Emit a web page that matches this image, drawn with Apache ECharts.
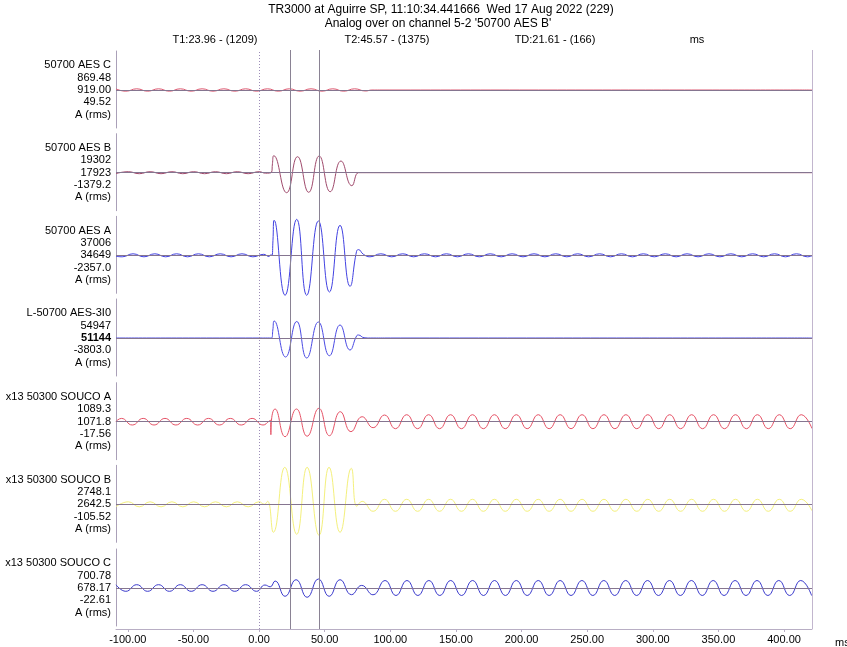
<!DOCTYPE html>
<html><head><meta charset="utf-8">
<script src="https://cdn.jsdelivr.net/npm/echarts@6/dist/echarts.min.js"></script>
<style>html,body{margin:0;padding:0;background:#fff}#c{width:847px;height:647px}</style>
</head><body><div id="c"></div>
<script>
// ---------------- data ----------------
const titleLine1 = "TR3000 at Aguirre SP, 11:10:34.441666  Wed 17 Aug 2022 (229)";
const titleLine2 = "Analog over on channel 5-2 '50700 AES B'";
const cursorTexts = ["T1:23.96 - (1209)", "T2:45.57 - (1375)", "TD:21.61 - (166)", "ms"];
const channelNames = ["50700 AES C", "50700 AES B", "50700 AES A", "L-50700 AES-3I0", "x13 50300 SOUCO A", "x13 50300 SOUCO B", "x13 50300 SOUCO C"];
const maxValues = ["869.48", "19302", "37006", "54947", "1089.3", "2748.1", "700.78"];
const cursorValues = ["919.00", "17923", "34649", "51144", "1071.8", "2642.5", "678.17"];
const minValues = ["49.52", "-1379.2", "-2357.0", "-3803.0", "-17.56", "-105.52", "-22.61"];
const unitLabel = "A (rms)";
const xTickValues = [-100, -50, 0, 50, 100, 150, 200, 250, 300, 350, 400];
const xRange = [-109, 421.3];
const cursorT0 = 0, cursorT1 = 23.96, cursorT2 = 45.57;

// traces: [time ms, trace amplitude (display divisions)]
const traceAesC = [[-109,1.1],[-101.5,-1.2],[-93.2,1.2],[-84.9,-1.2],[-76.6,1.2],[-68.3,-1.2],[-60.0,1.2],[-51.7,-1.2],[-43.4,1.2],[-35.1,-1.2],[-26.8,1.2],[-18.5,-1.2],[-10.2,1.2],[-1.9,-1.2],[6.4,1.2],[14.7,-1.2],[23.0,1.2],[31.3,-1.2],[39.6,1.2],[47.9,-1.2],[56.2,1.2],[64.5,-1.2],[72.8,1.2],[81.1,-1.0],[86.0,0],[92.0,0],[421.3,0]];
const traceAesB = [[-109,-0.9],[-99.6,1],[-91.3,-1],[-83.0,1],[-74.7,-1],[-66.4,1],[-58.1,-1],[-49.8,1],[-41.5,-1],[-33.2,1],[-24.9,-1],[-16.6,1],[-8.3,-1],[0.0,1],[5.0,-0.5],[9.5,0.5],[10.2,9],[11.2,17],[21.0,-20],[29.3,16],[37.8,-19.6],[45.8,16.7],[54.2,-19],[62.4,11.7],[70.7,-13],[75.7,0],[78.5,0],[100,0],[421.3,0]];
const traceAesA = [[-109,-1],[-104.3,-1.5],[-96.0,1.5],[-87.7,-1.5],[-79.4,1.5],[-71.1,-1.5],[-62.8,1.5],[-54.5,-1.5],[-46.2,1.5],[-37.9,-1.5],[-29.6,1.5],[-21.3,-1.5],[-13.0,1.5],[-4.7,-1.5],[3.6,1.0],[7.5,-1.2],[9.0,0.5],[9.8,0],[10.6,15],[11.5,35],[19.8,-40],[28.7,36],[36.3,-40],[45.2,34.3],[53.6,-36.7],[61.7,30],[69.3,-31],[74.3,4],[75.7,5.7],[79.5,1],[84.5,-1.5],[92.8,1.5],[101.1,-1.5],[109.5,1.5],[117.8,-1.5],[126.1,1.5],[134.5,-1.5],[142.8,1.5],[151.1,-1.5],[159.5,1.5],[167.8,-1.5],[176.1,1.5],[184.5,-1.5],[192.8,1.5],[201.1,-1.5],[209.5,1.5],[217.8,-1.5],[226.1,1.5],[234.5,-1.5],[242.8,1.5],[251.1,-1.5],[259.5,1.5],[267.8,-1.5],[276.1,1.5],[284.5,-1.5],[292.8,1.5],[301.1,-1.5],[309.5,1.5],[317.8,-1.5],[326.1,1.5],[334.5,-1.5],[342.8,1.5],[351.1,-1.5],[359.5,1.5],[367.8,-1.5],[376.1,1.5],[384.5,-1.5],[392.8,1.5],[401.1,-1.5],[409.5,1.5],[417.8,-1.5],[421.3,-0.5]];
const traceAes3I0 = [[-109,0],[0,0],[5,0],[9.5,0],[10.5,8],[11.5,17],[20.2,-19],[28.7,16.5],[36.3,-20],[45.2,16],[53.6,-17.7],[61.7,13],[69.3,-12],[74.3,2],[75.7,3],[80,0.3],[85,0],[100,0],[421.3,0]];
const traceSoucoA = [[-109,0.2],[-104.9,3.3],[-96.6,-3.3],[-88.3,3.3],[-80.0,-3.3],[-71.7,3.3],[-63.4,-3.3],[-55.1,3.3],[-46.8,-3.3],[-38.5,3.3],[-30.2,-3.3],[-21.9,3.3],[-13.6,-3.3],[-5.3,3.3],[3.0,-3.3],[7.6,0.5],[8.8,1.5],[9.0,-13],[9.3,-1],[12.2,12.7],[19.8,-15],[28.5,12.7],[36.6,-14.5],[45.6,13.4],[53.6,-14],[61.9,10],[70.0,-10],[78.5,5],[86.9,-6],[95.6,6.7],[103.9,-7],[112.5,7],[120.8,-7],[129.2,7],[137.5,-7],[145.9,7],[154.2,-7],[162.6,7],[170.9,-7],[179.3,7],[187.6,-7],[196.0,7],[204.3,-7],[212.7,7],[221.0,-7],[229.4,7],[237.7,-7],[246.1,7],[254.4,-7],[262.8,7],[271.1,-7],[279.5,7],[287.8,-7],[296.2,7],[304.5,-7],[312.9,7],[321.2,-7],[329.6,7],[337.9,-7],[346.3,7],[354.6,-7],[363.0,7],[371.3,-7],[379.7,7],[388.0,-7],[396.4,7],[404.7,-7],[413.1,7],[421.3,-6.8]];
const traceSoucoB = [[-109,-2.4],[-99.6,2.5],[-91.3,-2.5],[-83.0,2.5],[-74.7,-2.5],[-66.4,2.5],[-58.1,-2.5],[-49.8,2.5],[-41.5,-2.5],[-33.2,2.5],[-24.9,-2.5],[-16.6,2.5],[-8.3,-2.5],[0.0,2.5],[4.0,0],[6.5,3],[10.9,-28],[19.6,37],[28.7,-30],[36.6,37],[45.7,-31],[53.3,37],[61.7,-28],[70.3,36],[74.5,-2],[78.5,3],[86.9,-7],[95.6,5],[103.9,-7],[112.5,5],[120.8,-7],[129.2,5],[137.5,-7],[145.9,5],[154.2,-7],[162.6,5],[170.9,-7],[179.3,5],[187.6,-7],[196.0,5],[204.3,-7],[212.7,5],[221.0,-7],[229.4,5],[237.7,-7],[246.1,5],[254.4,-7],[262.8,5],[271.1,-7],[279.5,5],[287.8,-7],[296.2,5],[304.5,-7],[312.9,5],[321.2,-7],[329.6,5],[337.9,-7],[346.3,5],[354.6,-7],[363.0,5],[371.3,-7],[379.7,5],[388.0,-7],[396.4,5],[404.7,-7],[413.1,5],[421.3,-6.5]];
const traceSoucoC = [[-109,3.2],[-101.5,-3.3],[-93.2,3.3],[-84.9,-3.3],[-76.6,3.3],[-68.3,-3.3],[-60.0,3.3],[-51.7,-3.3],[-43.4,3.3],[-35.1,-3.3],[-26.8,3.3],[-18.5,-3.3],[-10.2,3.3],[-1.9,-3.3],[4.5,3.0],[8.5,1.2],[12.2,7.0],[19.8,-8.3],[28.2,8.3],[36.6,-9.3],[45.2,9.0],[53.4,-8.3],[61.7,8.3],[70.4,-6.7],[78.2,2.6],[86.8,-6.8],[96.0,7.5],[104.3,-7.5],[112.7,7.5],[121.0,-7.5],[129.4,7.5],[137.7,-7.5],[146.0,7.5],[154.3,-7.5],[162.7,7.5],[171.0,-7.5],[179.4,7.5],[187.7,-7.5],[196.0,7.5],[204.3,-7.5],[212.7,7.5],[221.0,-7.5],[229.4,7.5],[237.7,-7.5],[246.0,7.5],[254.3,-7.5],[262.7,7.5],[271.0,-7.5],[279.4,7.5],[287.7,-7.5],[296.0,7.5],[304.3,-7.5],[312.7,7.5],[321.0,-7.5],[329.4,7.5],[337.7,-7.5],[346.0,7.5],[354.3,-7.5],[362.7,7.5],[371.0,-7.5],[379.4,7.5],[387.7,-7.5],[396.0,7.5],[404.3,-7.5],[412.7,7.5],[421.0,-7.5]];
const traces = [traceAesC, traceAesB, traceAesA, traceAes3I0, traceSoucoA, traceSoucoB, traceSoucoC];

// ---------------- layout / style ----------------
const traceColors = ["#dc5870", "#a04a6c", "#4242e2", "#4a4ae4", "#e65266", "#f4f07c", "#3a3acc"];
const panelMid = [90, 172.7, 255.3, 338, 421.7, 504.3, 588];
const plotLeft = 116, plotRight = 35;
const FONT = '"Liberation Sans", Arial, sans-serif';

const grids = [], xAxes = [], yAxes = [], series = [], graphics = [];
panelMid.forEach((m, i) => {
  grids.push({left: plotLeft, right: plotRight, top: m - 39, height: 77});
  xAxes.push({gridIndex: i, type: 'value', min: xRange[0], max: xRange[1], show: false});
  yAxes.push({gridIndex: i, type: 'value', min: -38, max: 39,
    axisLine: {show: true, onZero: false, lineStyle: {color: '#aaa0b8', width: 1}},
    axisTick: {show: false}, axisLabel: {show: false}, splitLine: {show: false}});
  series.push({type: 'line', xAxisIndex: i, yAxisIndex: i, data: traces[i], smooth: 0.5,
    showSymbol: false, clip: false, lineStyle: {color: traceColors[i], width: 1}, z: 3,
    markLine: {silent: true, symbol: ['none', 'none'], label: {show: false}, animation: false,
      lineStyle: {color: '#857590', width: 1, type: 'solid'}, data: [{yAxis: 0}], z: 4}});
  const lines = [channelNames[i], maxValues[i], cursorValues[i], minValues[i], unitLabel];
  lines.forEach((t, k) => {
    graphics.push({type: 'text', x: 111, y: m + (k - 2) * 12.3,
      style: {text: t, fill: '#000', align: 'right', verticalAlign: 'middle',
        font: ((i === 3 && k === 2) ? 'bold ' : '') + '11px ' + FONT}});
  });
});
// overlay grid for time axis and cursors
const ov = panelMid.length;
grids.push({left: plotLeft, right: plotRight, top: 50, bottom: 18});
xAxes.push({gridIndex: ov, type: 'value', min: xRange[0], max: xRange[1],
  axisLine: {show: true, onZero: false, lineStyle: {color: '#b8aec4'}},
  axisTick: {show: true, customValues: xTickValues, length: 3, lineStyle: {color: '#b8aec4'}},
  axisLabel: {customValues: xTickValues, formatter: v => Number(v).toFixed(2), color: '#000',
    fontSize: 11, fontFamily: FONT, margin: 5},
  splitLine: {show: false}});
yAxes.push({gridIndex: ov, type: 'value', min: 0, max: 1, show: false});
series.push({type: 'line', xAxisIndex: ov, yAxisIndex: ov, data: [], z: 5,
  markLine: {silent: true, symbol: ['none', 'none'], label: {show: false}, animation: false,
    data: [
      {xAxis: cursorT0, lineStyle: {color: '#9c8cb8', width: 1, type: [1, 2]}},
      {xAxis: cursorT1, lineStyle: {color: '#8a8294', width: 1, type: 'solid'}},
      {xAxis: cursorT2, lineStyle: {color: '#8a8294', width: 1, type: 'solid'}},
      {xAxis: xRange[1], lineStyle: {color: '#c2b6ce', width: 1, type: 'solid'}}
    ]}});

graphics.push({type: 'text', x: 441, y: 10, style: {text: titleLine1, fill: '#000', align: 'center', verticalAlign: 'middle', font: '12px ' + FONT}});
graphics.push({type: 'text', x: 438, y: 24, style: {text: titleLine2, fill: '#000', align: 'center', verticalAlign: 'middle', font: '12px ' + FONT}});
[215, 387, 555, 697].forEach((x, k) => {
  graphics.push({type: 'text', x: x, y: 40, style: {text: cursorTexts[k], fill: '#000', align: 'center', verticalAlign: 'middle', font: '11px ' + FONT}});
});
graphics.push({type: 'text', x: 835, y: 643, style: {text: 'ms', fill: '#000', align: 'left', verticalAlign: 'middle', font: '11px ' + FONT}});

const chart = echarts.init(document.getElementById('c'), null, {renderer: 'canvas'});
chart.setOption({animation: false, backgroundColor: '#fff', grid: grids, xAxis: xAxes, yAxis: yAxes, series: series, graphic: graphics});
</script></body></html>
